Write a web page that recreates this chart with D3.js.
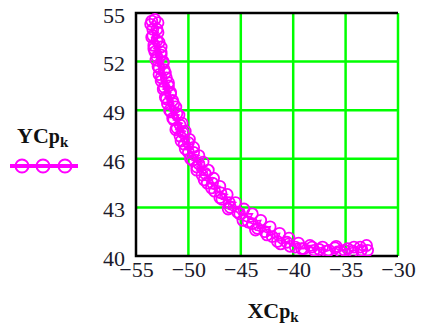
<!DOCTYPE html>
<html>
<head>
<meta charset="utf-8">
<script src="https://cdn.jsdelivr.net/npm/d3@7/dist/d3.min.js"></script>
<style>
  body { margin: 0; background: #fff; }
  svg { display: block; }
  .tick text { font-family: 'Liberation Serif', 'Times New Roman', serif; }
</style>
</head>
<body>
<div id="chart"></div>
<script>
// trace values (down the curve, then back up)
const XC = [
  -53.2, -53.6, -52.9, -53.4, -52.9, -53.5, -53.0, -53.3, -52.6, -53.2, -52.6, -53.1, -52.4,
  -52.9, -52.3, -52.8, -52.1, -52.6, -51.9, -52.4, -51.7, -52.2, -51.5, -52.0, -51.2, -51.7,
  -50.9, -51.4, -50.6, -51.1, -50.3, -50.8, -49.9, -50.4, -49.5, -50.0, -49.0, -49.6,
  -48.6, -49.2, -48.1, -48.7, -47.6, -48.2, -47.0, -47.5, -46.3, -46.8, -45.5, -46.0, -44.7,
  -45.1, -43.9, -44.3, -43.1, -43.4, -42.2, -42.5, -41.3, -41.5, -40.4,
  -40.3, -39.5, -39.2, -38.4, -38.0, -37.2, -36.8, -36.0, -35.5, -34.8, -34.3, -33.6, -33.0, -32.9, -33.5,
  -34.2, -35.1, -35.9, -36.6, -37.5, -38.2, -39.0, -39.8, -40.6, -41.2, -42.0, -42.7, -43.6,
  -43.9, -44.8, -45.3, -46.2, -46.1, -47.0, -46.9, -47.8, -47.7, -48.5, -48.4, -49.2, -49.0,
  -49.8, -49.5, -50.3, -50.0, -50.7, -50.5, -51.2, -50.8, -51.5, -51.1, -51.8, -51.4, -52.1,
  -51.7, -52.3, -51.9, -52.6, -52.2, -52.8, -52.4, -53.0, -52.6, -53.3, -52.8, -53.4, -53.0, -53.5];
const YC = [
  54.6, 54.3, 54.4, 54.0, 53.8, 53.5, 53.3, 53.0, 52.9, 52.6, 52.4, 52.1, 52.0,
  51.7, 51.5, 51.2, 51.0, 50.8, 50.5, 50.3, 50.1, 49.8, 49.6, 49.4, 49.2, 48.9,
  48.7, 48.4, 48.2, 47.9, 47.7, 47.4, 47.2, 46.9, 46.7, 46.4, 46.2, 45.9,
  45.8, 45.5, 45.3, 45.0, 44.8, 44.5, 44.3, 44.0, 43.8, 43.5, 43.3, 43.0, 42.9,
  42.6, 42.6, 42.1, 42.2, 41.7, 41.8, 41.3, 41.4, 40.9, 41.1,
  40.6, 40.8, 40.45, 40.65, 40.35, 40.55, 40.3, 40.5, 40.3, 40.45, 40.3, 40.55, 40.65, 40.35, 40.35,
  40.55, 40.35, 40.6, 40.35, 40.4, 40.55, 40.45, 40.55, 40.85, 40.75, 41.2, 41.5, 41.6,
  42.0, 42.2, 42.7, 42.9, 43.3, 43.6, 43.9, 44.2, 44.5, 44.7, 45.1, 45.3, 45.7,
  46.0, 46.4, 46.6, 47.0, 47.1, 47.6, 47.8, 48.1, 48.5, 48.8, 49.0, 49.4, 49.7,
  50.0, 50.4, 50.7, 51.0, 51.3, 51.6, 51.9, 52.3, 52.6, 52.8, 53.2, 53.6, 54.0, 54.5];
const xTicks = [-55, -50, -45, -40, -35, -30];
const yTicks = [40, 43, 46, 49, 52, 55];

const W = 424, H = 328;
const plot = { left: 136, right: 398, top: 13, bottom: 256 };
const magenta = '#ff00ff';
const green = '#00ff00';
const serif = "'Liberation Serif', 'Times New Roman', serif";

const svg = d3.select('#chart').append('svg')
  .attr('width', W).attr('height', H);

const x = d3.scaleLinear().domain([-55, -30]).range([plot.left, plot.right]);
const y = d3.scaleLinear().domain([40, 55]).range([plot.bottom, plot.top]);

// grid
svg.append('g').selectAll('line')
  .data(xTicks.slice(1))
  .enter().append('line')
  .attr('x1', d => x(d)).attr('x2', d => x(d))
  .attr('y1', plot.top).attr('y2', plot.bottom)
  .attr('stroke', green).attr('stroke-width', 2.5);

svg.append('g').selectAll('line')
  .data(yTicks.slice(1, -1))
  .enter().append('line')
  .attr('x1', plot.left).attr('x2', plot.right)
  .attr('y1', d => y(d)).attr('y2', d => y(d))
  .attr('stroke', green).attr('stroke-width', 2.5);

// frame: top, left, bottom in black
svg.append('path')
  .attr('d', 'M' + plot.right + ',' + plot.top + 'H' + plot.left + 'V' + plot.bottom + 'H' + plot.right)
  .attr('fill', 'none').attr('stroke', '#000').attr('stroke-width', 2.5);

// axes (labels only)
const xAxis = d3.axisBottom(x).tickValues(xTicks).tickSize(0).tickPadding(5)
  .tickFormat(d => String(d).replace('-', '\u2212'));
const gx = svg.append('g')
  .attr('transform', 'translate(0,' + plot.bottom + ')')
  .call(xAxis);
gx.select('.domain').remove();
gx.selectAll('text').attr('font-size', 22).attr('fill', '#1a1a2a');

const yAxis = d3.axisLeft(y).tickValues(yTicks).tickSize(0).tickPadding(11);
const gy = svg.append('g')
  .attr('transform', 'translate(' + plot.left + ',0)')
  .call(yAxis);
gy.select('.domain').remove();
gy.selectAll('text').attr('font-size', 22).attr('fill', '#1a1a2a').attr('dy', '0.42em');

// trace
svg.append('clipPath').attr('id', 'clip')
  .append('rect').attr('x', plot.left).attr('y', plot.top)
  .attr('width', plot.right - plot.left).attr('height', plot.bottom - plot.top);

const pts = XC.map((v, i) => [v, YC[i]]);
const g = svg.append('g').attr('clip-path', 'url(#clip)');

g.append('path')
  .datum(pts)
  .attr('d', d3.line().x(d => x(d[0])).y(d => y(d[1])))
  .attr('fill', 'none').attr('stroke', magenta).attr('stroke-width', 1.6);

g.selectAll('circle')
  .data(pts)
  .enter().append('circle')
  .attr('cx', d => x(d[0])).attr('cy', d => y(d[1]))
  .attr('r', 5.5)
  .attr('fill', 'none').attr('stroke', magenta).attr('stroke-width', 1.8);

// legend
const leg = svg.append('g');
const lt = leg.append('text')
  .attr('x', 17).attr('y', 143)
  .attr('font-family', serif).attr('font-weight', 'bold').attr('fill', '#111');
lt.append('tspan').attr('font-size', 22).text('YC');
lt.append('tspan').attr('font-size', 20).text('p');
lt.append('tspan').attr('font-size', 15).attr('dy', 4).text('k');

leg.append('line')
  .attr('x1', 10).attr('x2', 78).attr('y1', 166).attr('y2', 166)
  .attr('stroke', magenta).attr('stroke-width', 4);
leg.selectAll('circle')
  .data([22, 43, 65])
  .enter().append('circle')
  .attr('cx', d => d).attr('cy', 166).attr('r', 6.5)
  .attr('fill', 'none').attr('stroke', magenta).attr('stroke-width', 2);

// x title
const xt = svg.append('text')
  .attr('x', 273).attr('y', 318).attr('text-anchor', 'middle')
  .attr('font-family', serif).attr('font-weight', 'bold').attr('fill', '#111');
xt.append('tspan').attr('font-size', 22).text('XC');
xt.append('tspan').attr('font-size', 20).text('p');
xt.append('tspan').attr('font-size', 15).attr('dy', 4).text('k');
</script>
</body>
</html>
